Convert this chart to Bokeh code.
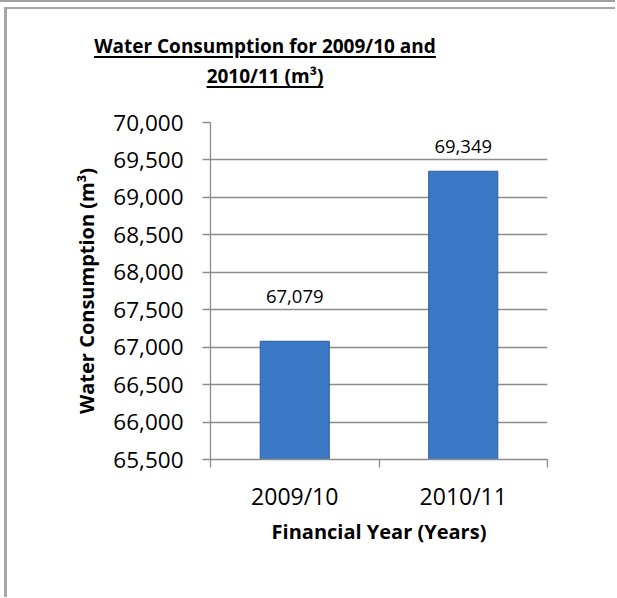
from bokeh.plotting import figure
from bokeh.layouts import column
from bokeh.models import (ColumnDataSource, LabelSet, Div,
                          FixedTicker, SingleIntervalTicker, NumeralTickFormatter, Range1d)
from bokeh.core.properties import value
from bokeh.embed import file_html
from bokeh.resources import INLINE

# ---- data ----
years = ["2009/10", "2010/11"]
consumption = [67079, 69349]
y_min = 65500
y_max = 70000
label_texts = ["67,079", "69,349"]

title_lines = ["Water Consumption for 2009/10 and", "2010/11 (m\u00b3)"]
x_title = "Financial Year (Years)"
y_title = "Water Consumption (m\u00b3)"

# ---- style ----
FONT = "Open Sans"
GRID = "#8c8c8c"
label_offsets = [38, 18]

xs = [i + 0.5 for i in range(len(years))]
src = ColumnDataSource(dict(x=xs, top=consumption, bottom=[y_min] * len(years),
                            lbl=label_texts, off=label_offsets))

p = figure(width=608, height=497, output_backend="svg", toolbar_location=None,
           x_range=Range1d(0, len(years)), y_range=Range1d(y_min, y_max),
           min_border_left=203, min_border_right=68, min_border_top=22,
           min_border_bottom=138, margin=0)
p.outline_line_color = None
p.background_fill_color = "white"
p.border_fill_color = "white"

p.vbar(x="x", top="top", bottom="bottom", width=0.41, source=src,
       fill_color="#3b78c6", line_color="#2b5c9c", line_width=1)

labels = LabelSet(x="x", y="top", text="lbl", y_offset="off", source=src,
                  text_align="center", text_baseline="alphabetic",
                  text_font=value(FONT), text_font_size="18.5px", text_color="black")
p.add_layout(labels)

# y axis
p.yaxis.ticker = SingleIntervalTicker(interval=500, num_minor_ticks=0)
p.yaxis.formatter = NumeralTickFormatter(format="0,0")
p.yaxis.major_tick_out = 8
p.yaxis.major_tick_in = 0
p.yaxis.minor_tick_out = 0
p.yaxis.minor_tick_in = 0
p.yaxis.major_label_standoff = 19
p.yaxis.axis_label = y_title
p.yaxis.axis_label_standoff = 10

# x axis
p.xaxis.ticker = FixedTicker(ticks=xs, minor_ticks=list(range(len(years) + 1)))
p.xaxis.major_label_overrides = {x: y for x, y in zip(xs, years)}
p.xaxis.major_tick_out = 0
p.xaxis.major_tick_in = 0
p.xaxis.minor_tick_out = 8
p.xaxis.minor_tick_in = 0
p.xaxis.major_label_standoff = 12
p.xaxis.axis_label = x_title
p.xaxis.axis_label_standoff = 3

for ax in (p.xaxis, p.yaxis):
    ax.axis_line_color = GRID
    ax.axis_line_width = 1.3
    ax.major_tick_line_color = GRID
    ax.minor_tick_line_color = GRID
    ax.major_tick_line_width = 1.3
    ax.minor_tick_line_width = 1.3
    ax.major_label_text_font = FONT
    ax.major_label_text_color = "black"
    ax.axis_label_text_font = FONT
    ax.axis_label_text_font_style = "bold"
    ax.axis_label_text_font_size = "20px"
    ax.axis_label_text_color = "black"
p.yaxis.major_label_text_font_size = "22.5px"
p.xaxis.major_label_text_font_size = "23px"

p.xgrid.grid_line_color = None
p.ygrid.grid_line_color = GRID
p.ygrid.grid_line_width = 1.3

# underlined two-line title
title_html = (
    "<div style=\"width:516px;text-align:center;font-family:'Open Sans',sans-serif;"
    "font-weight:bold;font-size:19px;line-height:30px;padding-top:22px;color:black;"
    "text-decoration:underline;text-decoration-thickness:2px;text-underline-offset:3px;\">"
    + "<br>".join(title_lines) + "</div>"
)
title_div = Div(text=title_html, width=608, height=91, margin=0)

inner = column(title_div, p, spacing=0, margin=0,
               styles={"margin-left": "4px",
                       "border-left": "3px solid #a6a6a6",
                       "border-top": "2px solid #a6a6a6"})
layout = column(inner, spacing=0, margin=0,
                styles={"border-top": "2px solid #a0a0a0", "padding-top": "5px"})

open("out.html", "w").write(file_html(layout, INLINE))
